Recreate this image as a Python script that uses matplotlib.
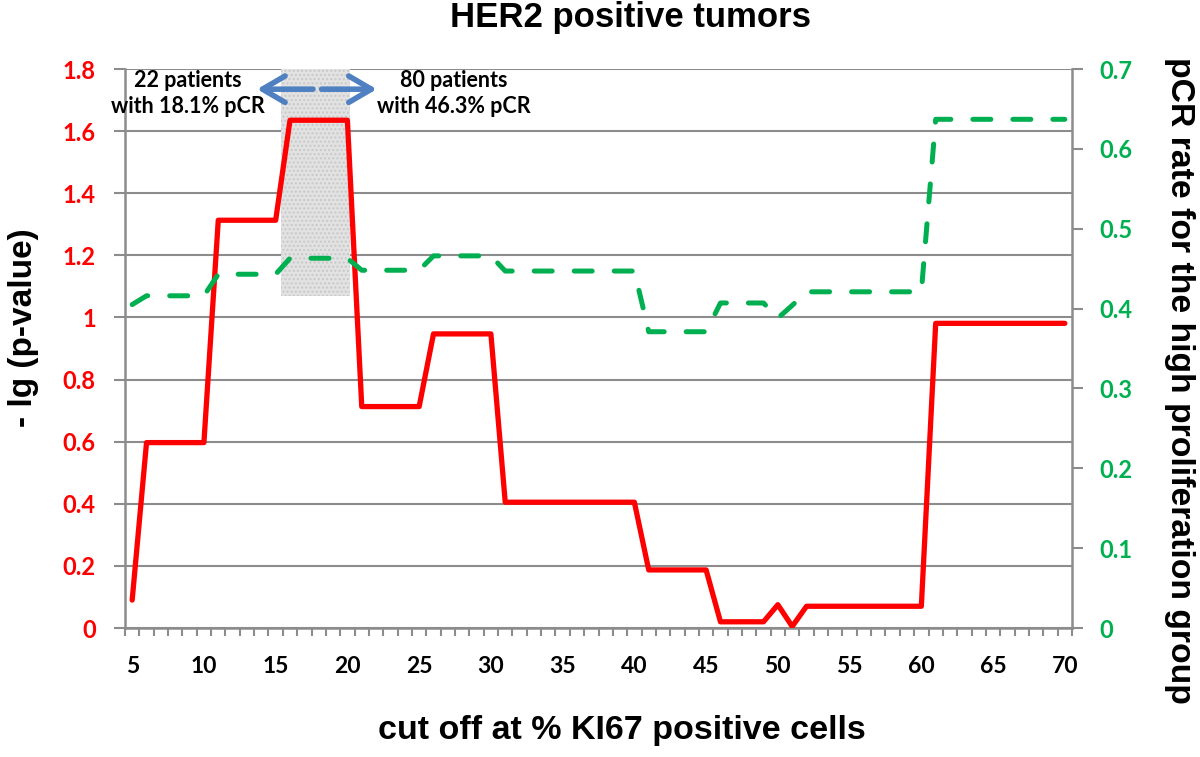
import numpy as np
import matplotlib.pyplot as plt
from matplotlib.patches import Rectangle

# cut off values (% KI67 positive cells)
cutoff = np.arange(5, 71)

# -lg(p-value), left axis
neg_log_p = [0.09,
             0.597, 0.597, 0.597, 0.597, 0.597,
             1.313, 1.313, 1.313, 1.313, 1.313,
             1.635, 1.635, 1.635, 1.635, 1.635,
             0.713, 0.713, 0.713, 0.713, 0.713,
             0.947, 0.947, 0.947, 0.947, 0.947,
             0.405, 0.405, 0.405, 0.405, 0.405, 0.405, 0.405, 0.405, 0.405, 0.405,
             0.187, 0.187, 0.187, 0.187, 0.187,
             0.02, 0.02, 0.02, 0.02,
             0.075, 0.005,
             0.07, 0.07, 0.07, 0.07, 0.07, 0.07, 0.07, 0.07, 0.07,
             0.981, 0.981, 0.981, 0.981, 0.981, 0.981, 0.981, 0.981, 0.981, 0.981]

# pCR rate for the high proliferation group, right axis
pcr_rate = [0.405,
            0.416, 0.416, 0.416, 0.416, 0.416,
            0.443, 0.443, 0.443, 0.443, 0.443,
            0.463, 0.463, 0.463, 0.463, 0.463,
            0.448, 0.448, 0.448, 0.448, 0.448,
            0.466, 0.466, 0.466, 0.466, 0.466,
            0.447, 0.447, 0.447, 0.447, 0.447, 0.447, 0.447, 0.447, 0.447, 0.447,
            0.371, 0.371, 0.371, 0.371, 0.371,
            0.407, 0.407, 0.407, 0.407,
            0.388, 0.404,
            0.421, 0.421, 0.421, 0.421, 0.421, 0.421, 0.421, 0.421, 0.421,
            0.637, 0.637, 0.637, 0.637, 0.637, 0.637, 0.637, 0.637, 0.637, 0.637]

left_ticks = [0, 0.2, 0.4, 0.6, 0.8, 1.0, 1.2, 1.4, 1.6, 1.8]
left_labels = ['0', '0.2', '0.4', '0.6', '0.8', '1', '1.2', '1.4', '1.6', '1.8']
right_ticks = [0, 0.1, 0.2, 0.3, 0.4, 0.5, 0.6, 0.7]
right_labels = ['0', '0.1', '0.2', '0.3', '0.4', '0.5', '0.6', '0.7']
x_ticks = [5, 10, 15, 20, 25, 30, 35, 40, 45, 50, 55, 60, 65, 70]

grey = '#8c8c8c'
red = '#ff0000'
green = '#00b050'
blue = '#4f81c2'
arial = 'Liberation Sans'
calibri = 'Lato'

fig = plt.figure(figsize=(12, 7.57), dpi=100)
ax = fig.add_axes([125/1200, 1 - 628/757, (1072 - 125)/1200, (628 - 69)/757])

ax.set_xlim(4.5, 70.5)
ax.set_ylim(0, 1.8)

# shaded cut-off window
ax.add_patch(Rectangle((15.4, 1.07), 4.8, 0.73, facecolor='#e2e2e2', hatch='....',
                       edgecolor='#c8c8c8', lw=0, zorder=1))

for t in left_ticks:
    ax.axhline(t, color=grey, lw=1.5, zorder=0)

ax.plot(cutoff, neg_log_p, color=red, lw=3.8, solid_joinstyle='round', solid_capstyle='round', zorder=3)

ax.set_xticks(x_ticks)
ax.set_xticklabels([str(v) for v in x_ticks], fontfamily=calibri, fontweight='bold', fontsize=16.5)
ax.set_xticks(np.arange(4.5, 71, 1), minor=True)
ax.tick_params(axis='x', which='major', length=0, pad=20)
ax.tick_params(axis='x', which='minor', length=6, width=1.5, color=grey, direction='out')

ax.set_yticks(left_ticks)
ax.set_yticklabels(left_labels, fontfamily=calibri, fontweight='bold', fontsize=17, color=red)
ax.tick_params(axis='y', length=8, width=1.5, color=grey, direction='out', pad=13)

for s in ['left', 'bottom']:
    ax.spines[s].set_color(grey)
    ax.spines[s].set_linewidth(1.8)
ax.spines['top'].set_visible(False)
ax.spines['right'].set_visible(False)

ax2 = ax.twinx()
ax2.set_ylim(0, 0.7)
ax2.plot(cutoff, pcr_rate, color=green, lw=3.6, dashes=(3.6, 4.4), dash_capstyle='round', zorder=4)
ax2.set_yticks(right_ticks)
ax2.set_yticklabels(right_labels, fontfamily=calibri, fontweight='bold', fontsize=17, color=green)
ax2.tick_params(axis='y', length=8, width=1.5, color=grey, direction='out', pad=12)
ax2.spines['right'].set_color(grey)
ax2.spines['right'].set_linewidth(1.8)
for s in ['left', 'top', 'bottom']:
    ax2.spines[s].set_visible(False)

# arrows and annotation text
arrow_kw = dict(arrowstyle='->,head_length=0.65,head_width=0.38', color=blue, lw=4,
                mutation_scale=25, shrinkA=0, shrinkB=0)
ax.annotate('', xy=(13.7, 1.735), xytext=(17.6, 1.735), arrowprops=arrow_kw, zorder=5)
ax.annotate('', xy=(22.05, 1.735), xytext=(18.2, 1.735), arrowprops=arrow_kw, zorder=5)
ax.text(8.9, 1.721, '22 patients\nwith 18.1% pCR', ha='center', va='center', fontsize=15.5,
        fontfamily=calibri, fontweight='bold', linespacing=1.3, zorder=6)
ax.text(27.44, 1.721, '80 patients\nwith 46.3% pCR', ha='center', va='center', fontsize=15.5,
        fontfamily=calibri, fontweight='bold', linespacing=1.3, zorder=6)

fig.text(631/1200, 1 - 17/757, 'HER2 positive tumors', ha='center', va='center',
         fontsize=25, fontweight='bold', fontfamily=arial)
fig.text(622/1200, 1 - 731/757, 'cut off at % KI67 positive cells', ha='center', va='center',
         fontsize=24.5, fontweight='bold', fontfamily=arial)
fig.text(24/1200, 1 - 328/757, '- lg (p-value)', ha='center', va='center', rotation=90,
         fontsize=24, fontweight='bold', fontfamily=arial)
fig.text(1180/1200, 1 - 380/757, 'pCR rate for the high proliferation group', ha='center', va='center',
         rotation=270, fontsize=24.3, fontweight='bold', fontfamily=arial)

fig.savefig('out.png', dpi=100)
